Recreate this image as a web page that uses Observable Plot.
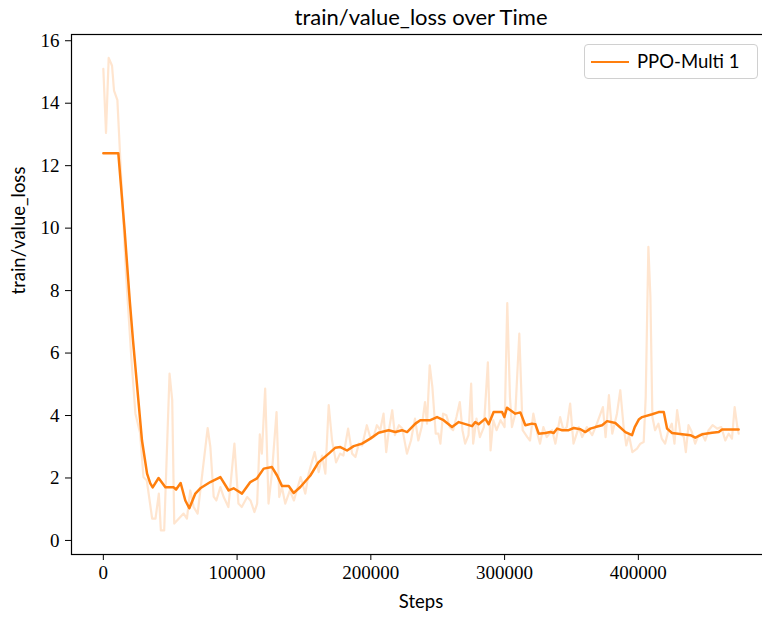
<!DOCTYPE html>
<html><head><meta charset="utf-8">
<script src="https://cdn.jsdelivr.net/npm/d3@7"></script>
<script src="https://cdn.jsdelivr.net/npm/@observablehq/plot@0.6"></script>
<style>
html,body{margin:0;padding:0;overflow:hidden;background:#fff;}
#wrap{position:relative;width:762px;height:619px;overflow:hidden;}
#chart svg{max-width:none !important;}
#legend{position:absolute;left:584px;top:44px;width:174px;height:35px;box-sizing:border-box;border:1px solid #d0d0d0;border-radius:4px;background:rgba(255,255,255,0.8);font-family:Lato,sans-serif;font-size:18.5px;color:#000;}
#legend .sw{position:absolute;left:6px;top:15.5px;width:38px;height:2.5px;background:#ff7f0e;}
#legend .lb{position:absolute;left:52px;top:5px;white-space:nowrap;}
</style>
</head><body>
<div id="wrap"><div id="chart"></div>
<div id="legend"><span class="sw"></span><span class="lb">PPO-Multi 1</span></div></div>
<script>
const titleText = "train/value_loss over Time";
const xLabel = "Steps";
const yLabel = "train/value_loss";
const seriesName = "PPO-Multi 1";
const xTicks = [0, 100000, 200000, 300000, 400000];
const yTicks = [0, 2, 4, 6, 8, 10, 12, 14, 16];

const rawSteps = [0,2000,4000,6500,8000,10500,13500,17000,21000,24000,27500,30000,32500,36500,39000,41500,43000,45500,49500,51500,53000,56500,60000,62500,65000,67500,70500,74000,78000,80000,82500,84500,87500,90000,93500,98000,101000,103500,107500,110000,113000,115000,117000,118500,121000,123500,126000,129500,131500,133500,136000,139500,142500,147500,151000,153500,158000,161000,163500,166000,168500,171000,174000,177000,179500,183000,186000,188500,191000,193500,197000,199500,202000,204500,207000,209500,211500,213500,216000,218000,221000,223500,227000,230000,233000,235500,238000,240500,242000,244000,246000,248500,250500,252000,254000,256500,259000,261500,264000,266500,268500,270500,273000,275000,276500,279000,281500,284500,287500,289500,291500,294000,297000,300000,302000,304000,305500,308000,311000,313500,317000,319000,321500,324500,326500,329000,331500,335500,338000,341500,344000,346500,349000,351500,355500,358000,361500,365500,369000,373500,375500,378000,380500,384000,386500,389000,391000,393000,395500,399000,401500,404000,405500,407500,409000,410500,412500,415000,417500,420000,422500,425000,427000,429000,431500,434000,435500,437500,440000,442500,445000,447500,450000,452500,455500,459000,462000,465000,467500,470000,472000,474000,475000];
const rawValues = [15.1,13.05,15.45,15.2,14.4,14.1,11.5,8.5,5.8,4.06,3.43,2.03,1.92,0.7,0.7,1.5,0.32,0.32,5.34,4.49,0.54,0.7,0.86,0.7,1.6,1.07,0.86,2.14,3.6,3.0,1.4,1.28,1.71,1.39,1.07,3.1,1.18,1.07,1.39,1.28,0.91,1.18,3.4,2.78,4.86,1.18,2.14,4.11,1.39,1.71,1.18,1.6,1.28,2.03,1.5,2.14,2.83,2.19,2.72,2.14,4.33,3.2,2.5,2.78,2.72,3.58,2.78,2.67,3.1,3.04,3.69,3.31,3.31,3.69,3.53,4.06,2.83,3.53,4.17,3.37,3.69,3.58,2.78,3.2,3.9,3.2,3.63,4.43,3.74,5.61,4.91,3.42,3.42,3.1,4.06,4.01,3.63,3.53,3.95,4.43,3.53,3.1,3.37,5.02,3.1,3.9,3.31,3.63,5.7,2.88,3.85,3.53,3.85,3.63,7.6,4.59,3.63,4.06,6.62,3.53,3.31,3.2,4.06,3.42,3.1,3.63,3.31,3.53,3.1,3.95,3.53,3.63,4.38,3.1,3.63,3.31,3.63,3.37,3.74,4.27,3.31,4.65,3.42,4.06,4.81,3.63,3.04,3.37,2.83,2.94,3.1,3.15,4.59,9.4,7.8,3.95,3.53,3.74,3.26,3.1,3.53,3.74,3.1,4.17,3.42,3.31,2.83,3.69,3.47,3.1,3.37,3.42,3.2,3.53,3.69,3.58,3.63,3.2,3.42,3.26,4.27,3.63,3.42];

const smoothSteps = [0,11200,15900,19700,22200,28900,32700,35100,36900,41300,46400,52600,54400,57800,61300,64300,68800,72500,80000,87500,93700,97400,103700,109900,114900,119900,126100,129900,133600,138600,142300,147300,154800,160800,168500,173500,177200,182200,187200,193400,199600,205800,213300,218300,223300,227100,233300,237000,244500,249500,254400,260700,265700,275700,278100,280600,285600,288100,291800,298100,299800,301800,308000,311800,315500,320500,323000,325500,330500,334200,336700,339200,343000,347900,351700,356700,360400,364100,367900,372900,376600,382800,390300,395300,397300,400300,402800,410300,415200,419000,421500,425200,432700,438900,442600,447700,455100,460100,462600,475000];
const smoothValues = [12.4,12.4,9.94,7.7,6.4,3.2,2.14,1.83,1.7,2.0,1.7,1.7,1.63,1.84,1.28,1.03,1.5,1.67,1.87,2.03,1.6,1.67,1.5,1.87,1.99,2.3,2.35,2.08,1.74,1.74,1.52,1.71,2.08,2.5,2.78,2.97,2.99,2.88,3.02,3.1,3.26,3.45,3.53,3.47,3.53,3.47,3.74,3.85,3.85,3.95,3.85,3.63,3.79,3.66,3.79,3.72,3.9,3.72,4.11,4.11,3.95,4.25,4.06,4.1,3.69,3.74,3.72,3.42,3.44,3.47,3.44,3.58,3.53,3.53,3.6,3.56,3.47,3.58,3.63,3.69,3.82,3.76,3.47,3.37,3.63,3.87,3.95,4.04,4.11,4.11,3.58,3.44,3.4,3.37,3.29,3.4,3.45,3.47,3.55,3.55];

const raw = rawSteps.map((s, i) => ({step: s, value: rawValues[i]}));
const smooth = smoothSteps.map((s, i) => ({step: s, value: smoothValues[i]}));
const color = "#ff7f0e";
const sans = "Lato, 'DejaVu Sans', sans-serif";

const chart = Plot.plot({
  width: 772,
  height: 619,
  marginLeft: 71,
  marginRight: 2,
  marginTop: 34,
  marginBottom: 65,
  style: {fontFamily: "'Liberation Serif', serif", fontSize: "19px", color: "#000", background: "#fff", overflow: "visible", maxWidth: "none"},
  x: {domain: [-23800, 498800]},
  y: {domain: [-0.45, 16.2]},
  marks: [
    Plot.line(raw, {x: "step", y: "value", stroke: color, strokeOpacity: 0.2, strokeWidth: 2.2}),
    Plot.line(smooth, {x: "step", y: "value", stroke: color, strokeWidth: 2.5}),
    Plot.frame({stroke: "#000", strokeWidth: 1.2}),
    Plot.axisX(xTicks, {tickSize: 6, tickPadding: 5, label: null, tickFormat: d => String(d), fontSize: 19}),
    Plot.axisY(yTicks, {tickSize: 6, tickPadding: 6, label: null, tickFormat: d => String(d), fontSize: 19}),
    Plot.text([titleText], {frameAnchor: "top", lineAnchor: "middle", dy: -17, fontFamily: sans, fontSize: 22, text: d => d}),
    Plot.text([xLabel], {frameAnchor: "bottom", lineAnchor: "middle", dy: 48, fontFamily: sans, fontSize: 18.5, text: d => d}),
    Plot.text([yLabel], {frameAnchor: "left", lineAnchor: "middle", dx: -52, rotate: -90, fontFamily: sans, fontSize: 18.5, text: d => d})
  ]
});
chart.style.maxWidth = "none";
document.getElementById("chart").appendChild(chart);
</script>
</body></html>
